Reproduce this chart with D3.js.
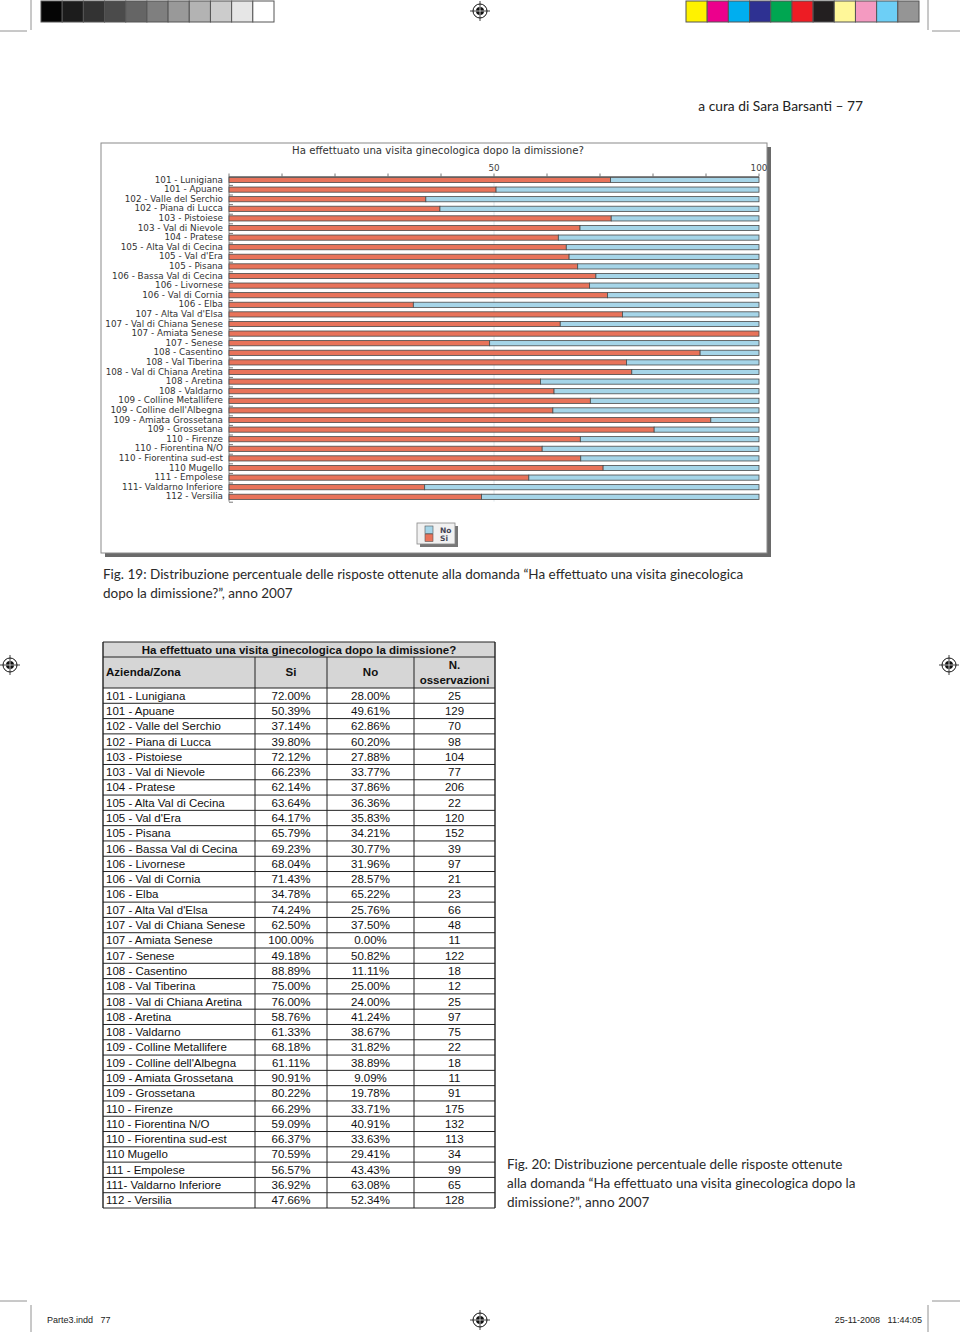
<!DOCTYPE html>
<html>
<head>
<meta charset="utf-8">
<script src="https://cdn.jsdelivr.net/npm/d3@7"></script>
<style>
  body { margin: 0; background: #fff; }
  svg { display: block; }
</style>
</head>
<body>
<svg id="page" width="960" height="1332"></svg>
<script>
// ---- data ----
const zones = [
  '101 - Lunigiana', '101 - Apuane', '102 - Valle del Serchio', '102 - Piana di Lucca',
  '103 - Pistoiese', '103 - Val di Nievole', '104 - Pratese', '105 - Alta Val di Cecina',
  '105 - Val d\'Era', '105 - Pisana', '106 - Bassa Val di Cecina', '106 - Livornese',
  '106 - Val di Cornia', '106 - Elba', '107 - Alta Val d\'Elsa', '107 - Val di Chiana Senese',
  '107 - Amiata Senese', '107 - Senese', '108 - Casentino', '108 - Val Tiberina',
  '108 - Val di Chiana Aretina', '108 - Aretina', '108 - Valdarno', '109 - Colline Metallifere',
  '109 - Colline dell\'Albegna', '109 - Amiata Grossetana', '109 - Grossetana', '110 - Firenze',
  '110 - Fiorentina N/O', '110 - Fiorentina sud-est', '110 Mugello', '111 - Empolese',
  '111- Valdarno Inferiore', '112 - Versilia'
];
const siPct = [72.00, 50.39, 37.14, 39.80, 72.12, 66.23, 62.14, 63.64, 64.17, 65.79, 69.23, 68.04,
  71.43, 34.78, 74.24, 62.50, 100.00, 49.18, 88.89, 75.00, 76.00, 58.76, 61.33, 68.18, 61.11,
  90.91, 80.22, 66.29, 59.09, 66.37, 70.59, 56.57, 36.92, 47.66];
const noPct = [28.00, 49.61, 62.86, 60.20, 27.88, 33.77, 37.86, 36.36, 35.83, 34.21, 30.77, 31.96,
  28.57, 65.22, 25.76, 37.50, 0.00, 50.82, 11.11, 25.00, 24.00, 41.24, 38.67, 31.82, 38.89,
  9.09, 19.78, 33.71, 40.91, 33.63, 29.41, 43.43, 63.08, 52.34];
const nObs = [25, 129, 70, 98, 104, 77, 206, 22, 120, 152, 39, 97, 21, 23, 66, 48, 11, 122, 18, 12,
  25, 97, 75, 22, 18, 11, 91, 175, 132, 113, 34, 99, 65, 128];
const xTicks = [0, 10, 20, 30, 40, 50, 60, 70, 80, 90, 100];
const xTickLabels = [50, 100];
const legendKeys = ['No', 'Si'];
const question = 'Ha effettuato una visita ginecologica dopo la dimissione?';
const tableHeader = ['Azienda/Zona', 'Si', 'No', 'N.', 'osservazioni'];
const grayPatches = ['#050505', '#1c1c1c', '#333333', '#4b4b4b', '#656565', '#7f7f7f', '#999999', '#b3b3b3', '#cccccc', '#e6e6e6', '#ffffff'];
const colorPatches = ['#fff200', '#ec008c', '#00aeef', '#2e3192', '#00a651', '#ed1c24', '#231f20', '#fff799', '#f49ac1', '#6dcff6', '#959595'];

const RED = '#e8735a';
const BLUE = '#a6d5e8';

const svg = d3.select('#page');

// ---- print marks ----
const marks = svg.append('g').attr('class', 'print-marks');

const patchX = d3.scaleBand().domain(d3.range(grayPatches.length)).range([41, 274]);
marks.selectAll('.gray-patch').data(grayPatches).join('rect')
  .attr('class', 'gray-patch')
  .attr('x', (d, i) => patchX(i)).attr('y', 1)
  .attr('width', patchX.bandwidth()).attr('height', 21)
  .style('fill', d => d).style('stroke', '#555').style('stroke-width', 1);

const colorX = d3.scaleBand().domain(d3.range(colorPatches.length)).range([686, 919]);
marks.selectAll('.color-patch').data(colorPatches).join('rect')
  .attr('class', 'color-patch')
  .attr('x', (d, i) => colorX(i)).attr('y', 1)
  .attr('width', colorX.bandwidth()).attr('height', 21)
  .style('fill', d => d).style('stroke', '#555').style('stroke-width', 1);

// crop marks
const cropLines = [
  [31, 0, 31, 30], [0, 31, 27, 31],
  [928, 0, 928, 30], [932, 31, 960, 31],
  [0, 1301, 27, 1301], [31, 1305, 31, 1332],
  [932, 1301, 960, 1301], [928, 1305, 928, 1332]
];
marks.selectAll('.crop').data(cropLines).join('line')
  .attr('x1', d => d[0]).attr('y1', d => d[1]).attr('x2', d => d[2]).attr('y2', d => d[3])
  .style('stroke', '#777').style('stroke-width', 0.8);

// registration targets
const regs = [[480, 11], [10, 665], [949, 665], [480, 1320]];
regs.forEach(([cx, cy]) => {
  const g = marks.append('g').attr('transform', `translate(${cx},${cy})`);
  g.append('circle').attr('r', 7).style('fill', '#fff').style('stroke', '#111').style('stroke-width', 1);
  g.append('circle').attr('r', 4).style('fill', '#111');
  g.append('line').attr('x1', -10).attr('x2', 10).style('stroke', '#111').style('stroke-width', 0.8);
  g.append('line').attr('y1', -10).attr('y2', 10).style('stroke', '#111').style('stroke-width', 0.8);
  g.append('line').attr('x1', -4).attr('x2', 4).style('stroke', '#fff').style('stroke-width', 0.7);
  g.append('line').attr('y1', -4).attr('y2', 4).style('stroke', '#fff').style('stroke-width', 0.7);
});

// footer slug
marks.append('text').attr('x', 47).attr('y', 1323)
  .style('font-family', 'Liberation Sans Narrow, Liberation Sans, sans-serif').style('font-size', '9px').style('fill', '#222')
  .text('Parte3.indd   77').attr('xml:space', 'preserve');
marks.append('text').attr('x', 922).attr('y', 1323).attr('text-anchor', 'end')
  .style('font-family', 'Liberation Sans Narrow, Liberation Sans, sans-serif').style('font-size', '9px').style('fill', '#222')
  .attr('xml:space', 'preserve')
  .text('25-11-2008   11:44:05');

// running head
svg.append('text').attr('x', 863).attr('y', 111).attr('text-anchor', 'end')
  .style('font-family', 'Lato, sans-serif').style('font-size', '13.8px').style('fill', '#222')
  .text('a cura di Sara Barsanti \u2013 77');

// ---- chart (Fig. 19) ----
const chart = svg.append('g').attr('class', 'chart');
const frame = { x: 101, y: 143, w: 666, h: 410 };

// drop shadow + frame
chart.append('rect')
  .attr('x', frame.x + 4).attr('y', frame.y + 4).attr('width', frame.w).attr('height', frame.h)
  .style('fill', '#6a6a6a');
chart.append('rect')
  .attr('x', frame.x).attr('y', frame.y).attr('width', frame.w).attr('height', frame.h)
  .style('fill', '#fff').style('stroke', '#8a8a8a').style('stroke-width', 1);

chart.append('text')
  .attr('x', 438).attr('y', 154).attr('text-anchor', 'middle')
  .style('font-family', 'DejaVu Sans, sans-serif').style('font-size', '10.2px').style('fill', '#333')
  .text(question);

const x = d3.scaleLinear().domain([0, 100]).range([229, 759]);
const y = d3.scaleBand().domain(zones).range([175.2, 501.6]).paddingInner(0.46).paddingOuter(0.23);

// light gridline at 50
chart.append('line')
  .attr('x1', x(50)).attr('x2', x(50)).attr('y1', 176).attr('y2', y.range()[1])
  .style('stroke', '#dde6ea').style('stroke-width', 1);

// top axis
const topAxis = chart.append('g').attr('transform', `translate(0,${176.5})`);
topAxis.append('line').attr('x1', x(0)).attr('x2', x(100))
  .style('stroke', '#666').style('stroke-width', 0.8);
topAxis.selectAll('.tick').data(xTicks).join('line')
  .attr('x1', d => x(d)).attr('x2', d => x(d)).attr('y1', 0).attr('y2', -3)
  .style('stroke', '#555').style('stroke-width', 0.8);
topAxis.selectAll('.tick-label').data(xTickLabels).join('text')
  .attr('x', d => x(d)).attr('y', -6).attr('text-anchor', 'middle')
  .style('font-family', 'DejaVu Sans, sans-serif').style('font-size', '8.8px').style('fill', '#444')
  .text(d => d);

// left axis with category ticks
chart.append('line')
  .attr('x1', x(0)).attr('x2', x(0)).attr('y1', 176).attr('y2', y.range()[1])
  .style('stroke', '#666').style('stroke-width', 0.8);
chart.selectAll('.cat-tick').data(zones).join('line')
  .attr('x1', x(0)).attr('x2', x(0) + 4)
  .attr('y1', d => y(d) + y.step() * 0.73 + 1).attr('y2', d => y(d) + y.step() * 0.73 + 1)
  .style('stroke', '#555').style('stroke-width', 0.8);

chart.selectAll('.cat-label').data(zones).join('text')
  .attr('class', 'cat-label')
  .attr('x', 223).attr('y', d => y(d) + y.bandwidth() / 2 + 2.5)
  .attr('text-anchor', 'end')
  .style('font-family', 'DejaVu Sans, sans-serif').style('font-size', '8.8px').style('fill', '#333')
  .text(d => d);

const rows = zones.map((z, i) => ({ zone: z, si: siPct[i], no: noPct[i] }));
const bars = chart.selectAll('.bar').data(rows).join('g').attr('class', 'bar');
bars.append('rect')
  .attr('x', x(0)).attr('y', d => y(d.zone))
  .attr('width', d => x(d.si) - x(0)).attr('height', y.bandwidth())
  .style('fill', RED).style('stroke', '#4a4a4a').style('stroke-width', 0.8);
bars.filter(d => d.no > 0).append('rect')
  .attr('x', d => x(d.si)).attr('y', d => y(d.zone))
  .attr('width', d => x(100) - x(d.si)).attr('height', y.bandwidth())
  .style('fill', BLUE).style('stroke', '#4a4a4a').style('stroke-width', 0.8);

// legend
const legend = chart.append('g').attr('transform', 'translate(417,523)');
legend.append('rect').attr('x', 3).attr('y', 3).attr('width', 38).attr('height', 21).style('fill', '#777');
legend.append('rect').attr('width', 38).attr('height', 21)
  .style('fill', '#f1f1f1').style('stroke', '#888').style('stroke-width', 0.8);
legend.selectAll('.key').data(legendKeys).join('rect')
  .attr('x', 8).attr('y', (d, i) => 3 + i * 8).attr('width', 8).attr('height', 7.5)
  .style('fill', d => d === 'No' ? BLUE : RED).style('stroke', '#555').style('stroke-width', 0.6);
legend.selectAll('.key-label').data(legendKeys).join('text')
  .attr('x', 23).attr('y', (d, i) => 9.5 + i * 8.5)
  .style('font-family', 'DejaVu Sans, sans-serif').style('font-size', '7.5px').style('font-weight', 'bold').style('fill', '#445')
  .text(d => d);

// caption Fig. 19
const capStyle = sel => sel.style('font-family', 'Lato, sans-serif').style('font-size', '13.5px').style('fill', '#2a2a2a');
svg.append('text').attr('x', 103).attr('y', 579).call(capStyle)
  .text('Fig. 19: Distribuzione percentuale delle risposte ottenute alla domanda \u201cHa effettuato una visita ginecologica');
svg.append('text').attr('x', 103).attr('y', 598).call(capStyle)
  .text('dopo la dimissione?\u201d, anno 2007');

// ---- table (Fig. 20) ----
const table = svg.append('g').attr('class', 'table');
const colEdges = [103, 255, 327, 414, 495];
const titleTop = 642, headTop = 657, bodyTop = 688;
const rowY = d3.scaleBand().domain(zones).range([bodyTop, 1208]);
const tFont = sel => sel.style('font-family', 'Liberation Sans, Arial, sans-serif').style('font-size', '11.5px').style('fill', '#111');

table.append('rect').attr('x', colEdges[0]).attr('y', titleTop)
  .attr('width', colEdges[4] - colEdges[0]).attr('height', bodyTop - titleTop)
  .style('fill', '#d6d6d6');

table.append('text').attr('x', (colEdges[0] + colEdges[4]) / 2).attr('y', 654)
  .attr('text-anchor', 'middle').call(tFont).style('font-weight', 'bold')
  .text(question);

table.append('text').attr('x', 106).attr('y', 676).call(tFont).style('font-weight', 'bold').text(tableHeader[0]);
table.append('text').attr('x', (colEdges[1] + colEdges[2]) / 2).attr('y', 676).attr('text-anchor', 'middle')
  .call(tFont).style('font-weight', 'bold').text(tableHeader[1]);
table.append('text').attr('x', (colEdges[2] + colEdges[3]) / 2).attr('y', 676).attr('text-anchor', 'middle')
  .call(tFont).style('font-weight', 'bold').text(tableHeader[2]);
table.append('text').attr('x', (colEdges[3] + colEdges[4]) / 2).attr('y', 669).attr('text-anchor', 'middle')
  .call(tFont).style('font-weight', 'bold').text(tableHeader[3]);
table.append('text').attr('x', (colEdges[3] + colEdges[4]) / 2).attr('y', 684).attr('text-anchor', 'middle')
  .call(tFont).style('font-weight', 'bold').text(tableHeader[4]);

const fmt = d3.format('.2f');
const trow = table.selectAll('.trow').data(rows.map((r, i) => ({ ...r, n: nObs[i] }))).join('g')
  .attr('class', 'trow')
  .attr('transform', d => `translate(0,${rowY(d.zone) + rowY.bandwidth() / 2 + 4})`);
trow.append('text').attr('x', 106).call(tFont).text(d => d.zone);
trow.append('text').attr('x', (colEdges[1] + colEdges[2]) / 2).attr('text-anchor', 'middle').call(tFont).text(d => fmt(d.si) + '%');
trow.append('text').attr('x', (colEdges[2] + colEdges[3]) / 2).attr('text-anchor', 'middle').call(tFont).text(d => fmt(d.no) + '%');
trow.append('text').attr('x', (colEdges[3] + colEdges[4]) / 2).attr('text-anchor', 'middle').call(tFont).text(d => d.n);

// grid lines
const hLines = [titleTop, headTop, bodyTop].concat(zones.map(z => rowY(z) + rowY.bandwidth()));
table.selectAll('.hline').data(hLines).join('line')
  .attr('x1', colEdges[0]).attr('x2', colEdges[4]).attr('y1', d => d).attr('y2', d => d)
  .style('stroke', '#222').style('stroke-width', 1);
table.selectAll('.vline').data(colEdges).join('line')
  .attr('x1', d => d).attr('x2', d => d)
  .attr('y1', (d, i) => (i === 0 || i === 4) ? titleTop : headTop).attr('y2', 1208)
  .style('stroke', '#222').style('stroke-width', (d, i) => (i === 0 || i === 4) ? 1.4 : 1);

svg.append('text').attr('x', 507).attr('y', 1169).call(capStyle).text('Fig. 20: Distribuzione percentuale delle risposte ottenute');
svg.append('text').attr('x', 507).attr('y', 1188).call(capStyle).text('alla domanda \u201cHa effettuato una visita ginecologica dopo la');
svg.append('text').attr('x', 507).attr('y', 1207).call(capStyle).text('dimissione?\u201d, anno 2007');
</script>
</body>
</html>
